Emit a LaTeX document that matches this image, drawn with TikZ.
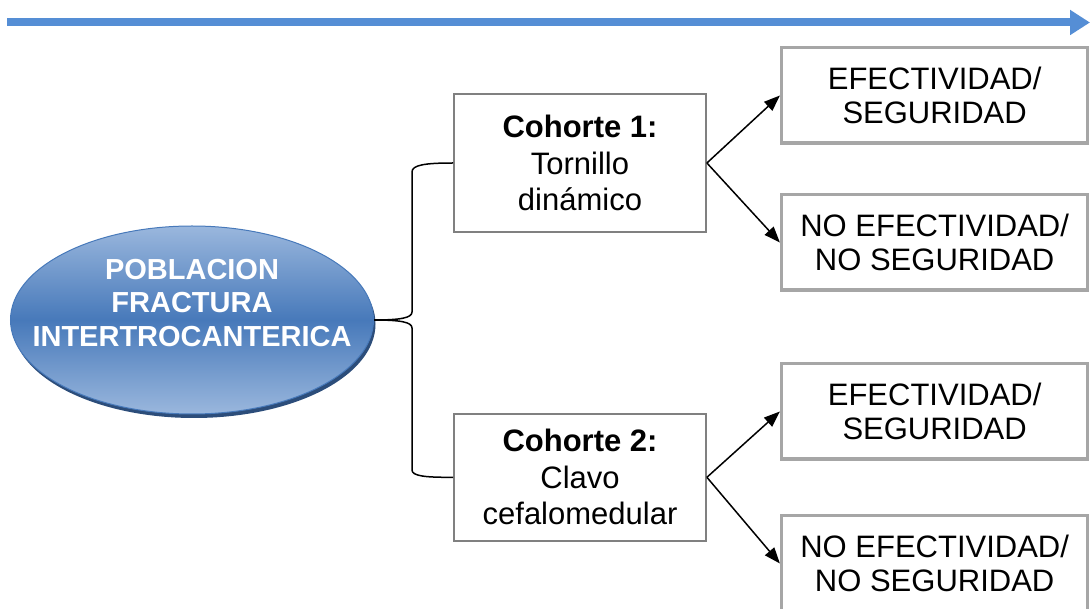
\documentclass[tikz,border=0pt]{standalone}
\usepackage{fontspec}
\setmainfont{Liberation Sans}
\usepackage{xcolor}
\usepackage{tikz}
\usetikzlibrary{positioning,shapes.geometric,shadows,arrows.meta}
\definecolor{timeblue}{HTML}{558ED5}
\definecolor{popdark}{HTML}{4779BA}
\definecolor{poplight}{HTML}{9AB7DD}
\definecolor{popshadow}{HTML}{2C4D7A}

\begin{document}
\begin{tikzpicture}[
    x=1pt, y=1pt,
    cohort/.style={rectangle, draw=black!50, line width=1.8pt, minimum width=252pt, align=center, font=\fontsize{31}{36.5}\selectfont},
    outcome/.style={rectangle, draw=black!35, line width=3.5pt, minimum width=306pt, minimum height=95.5pt, align=center, font=\fontsize{31}{33.5}\selectfont},
    timeline/.style={-{Triangle[length=20pt,width=24pt]}, line width=8pt, draw=timeblue},
    arrow/.style={-{Triangle[length=16pt,width=12pt]}, line width=1.5pt},
    brace/.style={line width=1.5pt}
]
    \useasboundingbox (0,0) rectangle (1090,608);

    % time axis
    \coordinate (tstart) at (7,585.5);
    \coordinate (tend) at (1090,585.5);
    \draw[timeline] (tstart) -- (tend);

    \node[ellipse, minimum width=363pt, minimum height=188pt, draw=popdark, line width=1pt,
          top color=poplight, bottom color=poplight, middle color=popdark,
          drop shadow={shadow xshift=2pt, shadow yshift=-4pt, fill=popshadow, opacity=1}] (pob) at (192,288) {};
    \node[font=\fontsize{29}{33.5}\selectfont\bfseries, text=white, align=center] (pobtext) at ([yshift=17pt]pob.center) {POBLACION\\FRACTURA\\INTERTROCANTERICA};

    \node[cohort, minimum height=138pt] (c1) at (580,445) {\textbf{Cohorte 1:}\\Tornillo\\dinámico};
    \node[cohort, minimum height=127pt, below=180pt of c1] (c2) {\textbf{Cohorte 2:}\\Clavo\\cefalomedular};

    \node[outcome, right=73pt of c1, yshift=67.5pt] (r1) {EFECTIVIDAD/\\SEGURIDAD};
    \node[outcome, below=48pt of r1] (r2) {NO EFECTIVIDAD/\\NO SEGURIDAD};
    \node[outcome, below=70pt of r2] (r3) {EFECTIVIDAD/\\SEGURIDAD};
    \node[outcome, below=53pt of r3] (r4) {NO EFECTIVIDAD/\\NO SEGURIDAD};

    % brace
    \draw[brace] (pob.east) .. controls (400,288) and (412,290) .. (412,296) -- (412,436) .. controls (412,443) and (425,445) .. (c1.west);
    \draw[brace] (pob.east) .. controls (400,288) and (412,286) .. (412,280) -- (412,138) .. controls (412,132) and (425,130.5) .. (c2.west);

    \draw[arrow] (c1.east) -- (r1.west);
    \draw[arrow] (c1.east) -- (r2.west);
    \draw[arrow] (c2.east) -- (r3.west);
    \draw[arrow] (c2.east) -- (r4.west);
\end{tikzpicture}
\end{document}
